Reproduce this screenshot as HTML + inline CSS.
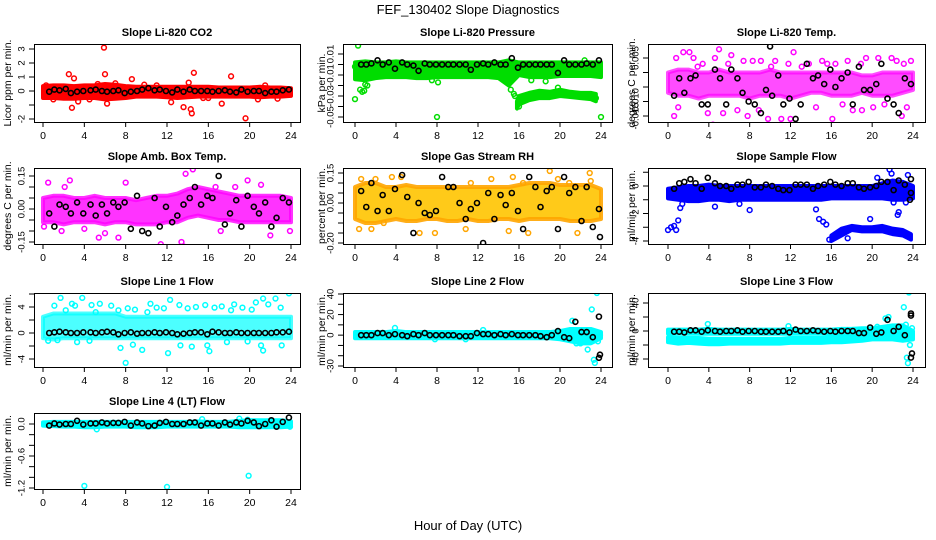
<!DOCTYPE html>
<html><head><meta charset="utf-8">
<style>
html,body{margin:0;padding:0;background:#fff;}
svg{display:block;font-family:"Liberation Sans",Arial,sans-serif;}
</style></head>
<body>
<svg id="chart" width="936" height="540" viewBox="0 0 936 540" xmlns="http://www.w3.org/2000/svg">
<rect x="0" y="0" width="936" height="540" fill="#fff"/>
<text x="468" y="14" font-size="13" text-anchor="middle">FEF_130402  Slope Diagnostics</text>
<text x="468" y="530" font-size="13" text-anchor="middle">Hour of Day (UTC)</text>
<g id="panels"></g>
</svg>
<script>
// shared data
const xTicks = [0,4,8,12,16,20,24];
const bandHours = [0,1,2,3,4,5,6,7,8,9,10,11,12,13,14,15,16,17,18,19,20,21,22,23,24];
const blackT = [0.6,1.1,1.6,2.2,2.7,3.3,3.9,4.6,5.1,5.7,6.2,6.8,7.3,7.9,8.5,9.1,9.6,10.2,10.8,11.3,11.9,12.5,13.0,13.6,14.2,14.7,15.3,15.9,16.4,17.0,17.6,18.1,18.7,19.2,19.8,20.4,20.9,21.5,22.1,22.6,23.2,23.8];

// Panel 1: CO2
const co2Hi = [0.35,0.4,0.4,0.35,0.4,0.4,0.5,0.45,0.35,0.3,0.3,0.3,0.3,0.3,0.3,0.3,0.3,0.25,0.25,0.25,0.25,0.3,0.25,0.25,0.2];
const co2Lo = [-0.5,-0.5,-0.55,-0.55,-0.5,-0.5,-0.6,-0.55,-0.5,-0.4,-0.4,-0.4,-0.45,-0.5,-0.45,-0.4,-0.4,-0.4,-0.4,-0.4,-0.4,-0.45,-0.4,-0.4,-0.35];
const co2OutH = [5.9,2.5,3.0,6.0,8.6,14.6,18.2,14.1,2.8,6.2,13.6,14.3,14.4,17.3,19.6,12.4,0.3,21.5,11.0,4.5,3.4,7.0,9.8,16.0,20.8,1.0,22.7,5.3,15.5];
const co2OutV = [3.1,1.2,0.9,1.2,0.85,1.3,1.05,0.6,-1.2,-0.9,-1.15,-1.3,-1.6,-0.9,-1.95,-0.8,0.4,0.4,0.4,-0.6,-0.75,0.55,0.45,-0.5,-0.6,-0.6,-0.55,0.5,-0.5];
const co2Black = [-0.05,0.1,0.05,0.15,-0.15,-0.05,0,0.05,0.1,0,-0.05,0,0.05,-0.15,-0.05,0,0.1,0.2,0.05,0.1,0,-0.1,0.1,-0.05,0.1,0,0,0,-0.05,0,0.05,-0.05,-0.1,0.1,-0.05,0,0,-0.15,-0.05,-0.05,0.05,0.1];
const co2Ticks = [-2,-1,0,1,2,3];
const co2Labels = ["-2","","0","1","2","3"];

// Panel 2: Pressure
const presHi = [0.002,0.003,0.002,0.002,0.003,0.002,0.002,0.002,0.002,0.002,0.002,0.002,0.002,0.002,0.002,0.004,0.002,0.002,0.002,0.002,0.002,0.002,0.002,0.002,0.002];
const presLo = [-0.014,-0.015,-0.013,-0.012,-0.012,-0.012,-0.013,-0.013,-0.012,-0.012,-0.012,-0.012,-0.012,-0.012,-0.013,-0.02,-0.01,-0.012,-0.012,-0.012,-0.011,-0.011,-0.011,-0.011,-0.012];
const presBH = [15.8,16,17,18,19,20,21,22,23,23.5];
const presBHi = [-0.035,-0.03,-0.027,-0.025,-0.026,-0.024,-0.026,-0.027,-0.027,-0.028];
const presBLo = [-0.042,-0.038,-0.034,-0.032,-0.032,-0.030,-0.031,-0.032,-0.033,-0.035];
const presOutH = [0.3,0,0,0.5,0.7,1.0,8,8.1,16,15.2,15.5,22.4,24,23.5,2,19.8,0.9,1.2,7.5,17.2,18.6,15.6];
const presOutV = [0.018,-0.033,-0.002,-0.024,-0.026,-0.019,-0.05,-0.017,-0.04,-0.024,-0.028,0.004,-0.05,-0.032,0.001,-0.022,-0.025,-0.02,-0.015,-0.015,-0.016,-0.03];
const presBlack = [0,0,0.001,0.004,0,0.002,-0.004,0.002,0,-0.001,-0.006,0.001,0,0,0,0,0,0,0,-0.005,0,0.001,0,0.002,0,0,0.006,-0.003,0,0,0,0,0,0,-0.008,0.004,0,0,0,0.001,0,0.004];
const presTicks = [0.01,0,-0.01,-0.02,-0.03,-0.04,-0.05];
const presLabels = ["0.01","","-0.01","","-0.03","","-0.05"];

// Panel 3: Li-820 Temp
const tempHi = [0.000,0.001,0.001,0.000,0.000,0.001,0.000,0.000,0.000,0.000,0.001,0.000,0.000,0.000,0.000,0.000,0.000,0.000,0.000,-0.001,-0.001,0.000,0.000,0.000,0.000];
const tempLo = [-0.007,-0.008,-0.008,-0.009,-0.008,-0.008,-0.008,-0.008,-0.009,-0.008,-0.008,-0.008,-0.009,-0.008,-0.007,-0.007,-0.008,-0.008,-0.008,-0.007,-0.008,-0.008,-0.008,-0.007,-0.006];
const tempOutH = [0.8,1.5,2.1,2.5,3.4,4.6,5.0,6.2,7.4,8.3,9.1,10.5,11.8,12.3,13.8,15.1,16.4,17.6,18.9,19.4,20.6,21.9,22.4,23.1,23.8,1.0,3.9,6.8,9.8,12.0,16.1,18.1,22.9,0.6,5.4,8.9,14.5,19.0,20.1,11.1,4.4,7.8,2.9,5.9,10.1,13.1,15.6,17.1,21.2,23.4];
const tempOutV = [0.005,0.007,0.007,0.005,0.003,0.005,0.008,0.006,0.004,0.004,0.004,0.004,0.003,0.007,0.003,0.004,0.003,0.004,0.003,0.005,0.005,0.005,0.004,0.003,0.004,-0.012,-0.014,-0.013,-0.016,-0.016,-0.016,-0.013,-0.015,-0.015,-0.014,-0.013,-0.012,-0.013,-0.012,-0.016,-0.018,-0.015,0.002,0.003,0.002,0.002,0.003,-0.011,-0.011,-0.012];
const tempBlack = [-0.008,-0.002,-0.007,-0.002,-0.001,-0.011,-0.011,0.001,-0.002,-0.011,0.001,-0.002,-0.007,-0.010,-0.011,-0.014,-0.006,-0.008,-0.001,-0.011,-0.009,-0.016,-0.011,0.003,-0.002,-0.001,-0.004,0.001,-0.005,-0.002,0.000,-0.011,0.002,-0.006,-0.006,-0.004,0.003,-0.009,-0.011,-0.014,-0.002,-0.004];
const tempTicks = [0.005,0,-0.005,-0.01,-0.015];
const tempLabels = ["0.005","","","-0.010","-0.015"];

// Panel 4: Amb Box Temp
const ambHi = [0.05,0.06,0.06,0.05,0.05,0.06,0.05,0.05,0.05,0.04,0.05,0.06,0.06,0.07,0.09,0.10,0.09,0.08,0.07,0.06,0.06,0.06,0.06,0.06,0.05];
const ambLo = [-0.06,-0.06,-0.07,-0.06,-0.06,-0.06,-0.07,-0.06,-0.06,-0.07,-0.07,-0.07,-0.06,-0.06,-0.04,-0.03,-0.04,-0.05,-0.05,-0.06,-0.06,-0.06,-0.06,-0.06,-0.06];
const ambOutH = [0.1,0.5,2.6,1.8,5.4,7.3,10.2,11.4,12.4,13.4,13.6,13.8,14.5,16.7,20.9,19.8,17.2,22.0,23.9,8.0,4.0,18.6,21.1,2.1,6.0];
const ambOutV = [-0.08,0.12,0.13,-0.1,-0.13,-0.13,-0.19,-0.16,-0.2,-0.15,-0.17,0.16,0.18,0.1,0.24,0.13,-0.1,-0.12,-0.1,0.12,-0.09,0.1,0.11,0.1,-0.11];
const ambBlack = [-0.02,-0.08,0.02,0.01,-0.02,0.03,-0.02,0.02,-0.03,0.02,-0.02,0.03,0.01,0.03,-0.09,0.06,-0.10,-0.11,0.05,-0.08,0.01,-0.06,-0.03,0.02,0.05,0.1,0.02,0.06,0.05,0.15,-0.07,-0.02,0.04,-0.08,0.06,0.01,-0.02,0.03,-0.08,-0.04,0.05,0.03];
const ambTicks = [0.15,0.1,0.05,0,-0.05,-0.1,-0.15];
const ambLabels = ["0.15","","","0.00","","","-0.15"];

// Panel 5: Gas Stream RH
const rhHi = [0.08,0.1,0.1,0.08,0.08,0.09,0.08,0.08,0.08,0.08,0.08,0.08,0.08,0.08,0.08,0.08,0.09,0.1,0.1,0.1,0.09,0.09,0.09,0.09,0.07];
const rhLo = [-0.08,-0.1,-0.1,-0.09,-0.08,-0.09,-0.09,-0.08,-0.08,-0.09,-0.09,-0.08,-0.09,-0.09,-0.08,-0.08,-0.09,-0.08,-0.08,-0.08,-0.08,-0.09,-0.09,-0.09,-0.08];
const rhOutH = [0.4,0.6,1.6,2.0,3.6,4.5,5.7,6.3,10.8,11.3,13.3,15.0,15.4,16.4,16.9,19.0,20.9,21.7,22.0,22.9,23.0,2.8,7.8,19.8];
const rhOutV = [-0.13,0.12,-0.13,0.12,0.13,0.13,-0.25,-0.15,-0.13,0.1,0.12,-0.14,0.13,0.1,-0.15,0.16,0.1,-0.15,-0.23,0.15,0.11,-0.1,-0.15,0.12];
const rhBlack = [0.06,-0.02,0.10,-0.04,0.04,-0.04,0.07,0.14,0.03,-0.15,0.0,-0.05,-0.06,-0.04,0.13,0.08,0.08,0.0,-0.08,-0.03,0.0,-0.2,0.05,-0.08,0.04,-0.01,0.05,-0.04,-0.13,0.13,0.08,-0.02,0.06,0.08,-0.13,0.13,0.05,0.08,-0.09,0.08,-0.12,-0.03];
const rhTicks = [0.15,0.1,0.05,0,-0.05,-0.1,-0.15,-0.2];
const rhLabels = ["0.15","","","0.00","","","","-0.20"];

// Panel 6: Sample Flow
const sfHi = [-0.2,-0.1,0,0,0.1,0,0,0,0,0,0,0,0,0,0,0,0,0,0,0,0,0.2,0.4,0.3,0];
const sfLo = [-0.9,-1.0,-1.1,-1.1,-1.0,-1.0,-1.1,-1.0,-1.0,-1.0,-1.0,-1.0,-1.0,-1.0,-1.0,-1.0,-0.9,-0.9,-0.9,-0.9,-0.9,-0.9,-1.0,-1.0,-0.9];
const sfBH = [16,17,18,19,20,21,22,23,23.8];
const sfBHi = [-3.6,-3.1,-2.9,-3.0,-3.0,-2.9,-3.1,-3.2,-3.5];
const sfBLo = [-4.0,-3.6,-3.2,-3.3,-3.3,-3.3,-3.5,-3.6,-3.9];
const sfOutH = [0,0.3,0.6,0.8,1.0,1.2,1.4,8,14.5,14.8,15.2,15.5,21.7,21.9,22.1,22.5,22.6,20.5,17.6,19.8,23.3,23.5,4.6,7.0,15.8];
const sfOutV = [-3.2,-3.0,-2.9,-3.2,-2.5,-1.6,-1.3,-1.75,-1.7,-2.4,-2.6,-2.8,1.2,0.9,-1.2,-2.1,-1.9,0.6,-3.8,-2.4,-1.2,0.8,-1.5,-1.3,-3.9];
const sfBlack = [-0.2,0.2,0.3,0.5,0.2,-0.2,0.6,0.2,0,0,-0.2,0.1,0.1,0.3,-0.1,-0.1,0.1,0,-0.2,-0.3,-0.3,0.1,0.1,0.1,-0.2,0,0.1,0.3,0.1,0,0.2,0.2,-0.1,-0.2,-0.1,0,0.3,0.3,-0.3,0.4,0.1,0.5];
const sfTicks = [1,0,-1,-2,-3,-4];
const sfLabels = ["","0","","-2","","-4"];

// Panel 7: Line 1 Flow
const l1Hi = [2.5,3,3,3,3,3,3,3,2.5,2.5,2.5,2.5,2.5,2.5,2.5,2.5,2.5,2.5,2.5,2.5,2.5,2.5,2.5,2.5,2.5];
const l1Lo = [-0.8,-1,-0.8,-0.8,-0.8,-0.8,-0.8,-0.8,-0.8,-0.8,-0.8,-0.8,-0.8,-0.8,-0.8,-0.8,-0.8,-0.8,-0.8,-0.8,-0.8,-0.8,-0.8,-0.8,-0.8];
const l1OutH = [1.1,1.7,2.8,3.1,3.8,4.7,5.1,5.5,6.6,7.3,8.2,8.9,10.4,11.0,11.7,12.3,13.2,14.0,14.8,15.7,16.6,17.3,18.5,19.3,20.6,21.3,21.8,22.5,23.0,23.8,0.5,1.4,3.3,4.5,7.5,8.0,8.7,9.6,12.1,13.3,14.4,15.9,16.1,17.8,19.8,21.1,21.3,23.1,2.2,10.1,18.2,20.2];
const l1OutV = [4.2,5.4,4.5,4.2,5.4,4.3,3.2,4.5,4.2,3.5,3.8,3.6,4.5,3.9,3.8,5.1,4.3,3.8,4.0,4.3,3.9,4.1,4.4,3.9,4.7,5.3,4.4,5.3,3.9,6.1,-1.2,-1.1,-1.4,-1.2,-2.3,-4.6,-1.8,-2.6,-3.1,-1.9,-2.1,-1.9,-2.8,-1.4,-1.3,-1.9,-2.7,-1.9,3.5,3.2,3.5,3.6];
const l1Black = [0,0.1,0.2,0.1,0,0,0.1,0.1,0,0.1,0.2,0.1,-0.2,0,0.1,-0.1,0,0,0.1,0,0.1,0,-0.2,-0.1,0,0.1,0.1,-0.2,0.2,0.1,0,0,0.1,0,0,0,0,0,0,0.1,0.1,0.2];
const l1Ticks = [6,4,2,0,-2,-4];
const l1Labels = ["","4","","0","","-4"];

// Panel 8: Line 2 Flow
const l2Hi = [3,3,3,3,4,3,3,3,3,3,3,3,3,3,3,3,3,3,3,3,4,6,6,6,3];
const l2Lo = [-3,-3,-3,-3,-3,-3,-3,-3,-3,-3,-3,-3,-3,-3,-3,-3,-3,-3,-3,-3,-4,-6,-8,-8,-3];
const l2OutH = [3.9,7.8,10.8,12.5,21.2,21.6,22.7,23.1,23.3,23.4,23.6,23.7,23.9,22.0];
const l2OutV = [7,-4,-4,5,14,-8,-14,25,-24,-27,41,-6,0,-8];
const l2Black = [0,0,0,2,2,0,1,0,-1,1,0,2,0,0,0,0,0,-1,-1,-1,2,1,1,0,1,0,1,0,0,0,0,-1,-2,0,4,-2,-3,13,3,3,-2,18];
const l2Ticks = [40,30,20,10,0,-10,-20,-30];
const l2Labels = ["40","","20","","0","","","-30"];

// Panel 9: Line 3 Flow
const l3Hi = [2,2,2,2,3,2,2,2,2,2,2,2,3,2,2,2,2,3,3,4,4,6,8,8,0];
const l3Lo = [-4,-4,-4,-4,-4,-4,-4,-4,-4,-4,-4,-4,-4,-4,-4,-4,-4,-5,-5,-6,-6,-8,-10,-12,-8];
const l3BHi = [-9,-10,-10,-10,-11,-11,-11,-11,-11,-11,-11,-11,-10,-10,-10,-10,-9,-9,-8,-6,-6,-6,-6,-6,-6];
const l3BLo = [-16,-18,-17,-18,-19,-19,-18,-18,-18,-18,-18,-18,-17,-17,-17,-17,-16,-16,-15,-14,-12,-12,-12,-14,-12];
const l3OutH = [3.9,11.8,21.3,21.6,23.1,23.4,23.6,23.3,23.5,23.9,23.7,20.5];
const l3OutV = [10,7,18,20,34,-38,55,9,-46,4,-20,6];
const l3Black = [-1,-1,-2,1,1,-1,1,0,-1,0,0,1,-1,0,0,-1,-1,-1,-1,0,-2,2,0,0,1,0,-1,0,-1,0,0,0,-3,-3,5,-4,-2,16,0,6,-6,22];
const l3Ticks = [40,20,0,-20,-40];
const l3Labels = ["40","","0","","-40"];

// Panel 10: Line 4 (LT) Flow
const l4Hi = [0.03,0.04,0.04,0.04,0.04,0.04,0.04,0.04,0.04,0.04,0.04,0.04,0.04,0.04,0.04,0.05,0.04,0.04,0.04,0.06,0.07,0.07,0.07,0.07,0.05];
const l4Lo = [-0.03,-0.04,-0.05,-0.05,-0.06,-0.06,-0.05,-0.05,-0.05,-0.06,-0.06,-0.06,-0.05,-0.05,-0.05,-0.05,-0.05,-0.05,-0.05,-0.06,-0.06,-0.06,-0.06,-0.06,-0.05];
const l4OutH = [4.0,12.0,19.9,5.2,15.4,19.0,19.8,23.9];
const l4OutV = [-1.16,-1.18,-0.97,-0.1,0.09,0.1,0.08,-0.05];
const l4Black = [-0.03,0.01,-0.01,0,0,0.06,-0.01,0.01,0.01,0.03,0.01,0.02,0.02,0.04,-0.03,0.03,0.01,-0.04,-0.03,0.02,0.04,0,0,0,0.03,0.03,-0.03,0.01,0.01,-0.03,0.03,-0.01,0.03,0.01,0.06,0.03,-0.04,0,0.07,-0.05,0.04,0.12];
const l4Ticks = [0,-0.2,-0.4,-0.6,-0.8,-1.0,-1.2];
const l4Labels = ["0.0","","","-0.6","","","-1.2"];

const NS = "http://www.w3.org/2000/svg";
const root = document.getElementById('panels');
function mk(tag, attrs, parent){const e=document.createElementNS(NS,tag);for(const k in attrs)e.setAttribute(k,attrs[k]);(parent||root).appendChild(e);return e;}

const cols = [{l:34,r:300,x0:43,x24:291,yt:8},{l:343,r:612,x0:355,x24:601,yt:322},{l:648,r:925,x0:668,x24:913,yt:632}];
const rows = [{t:44,b:122},{t:168,b:244},{t:293,b:367},{t:413,b:489}];

const panels = [
 {key:'co2',title:'Slope Li-820 CO2',ylab:'Licor ppm per min.',c:0,r:0,col:'#ff0000',op:1,ref:[3,49,-2,119],ticks:co2Ticks,labels:co2Labels,bands:[[bandHours,co2Hi,co2Lo]],oh:co2OutH,ov:co2OutV,blk:co2Black,bx:[],by:[]},
 {key:'pressure',title:'Slope Li-820 Pressure',ylab:'kPa per min.',c:1,r:0,col:'#00dd00',op:1,ref:[0.01,54,-0.05,117],ticks:presTicks,labels:presLabels,bands:[[bandHours,presHi,presLo],[presBH,presBHi,presBLo]],oh:presOutH,ov:presOutV,blk:presBlack,bx:[],by:[]},
 {key:'temp',title:'Slope Li-820 Temp.',ylab:'degrees C per min.',c:2,r:0,col:'#ff00ff',op:0.7,ref:[0.005,58,-0.015,116],ticks:tempTicks,labels:tempLabels,bands:[[bandHours,tempHi,tempLo]],oh:tempOutH,ov:tempOutV,blk:tempBlack,bx:[10],by:[0.009]},
 {key:'ambbox',title:'Slope Amb. Box Temp.',ylab:'degrees C per min.',c:0,r:1,col:'#ff00ff',op:0.8,ref:[0.15,176,-0.15,242],ticks:ambTicks,labels:ambLabels,bands:[[bandHours,ambHi,ambLo]],oh:ambOutH,ov:ambOutV,blk:ambBlack,bx:[],by:[]},
 {key:'rh',title:'Slope Gas Stream RH',ylab:'percent per min.',c:1,r:1,col:'#ffa500',op:0.9,ref:[0.15,173,-0.2,243],ticks:rhTicks,labels:rhLabels,bands:[[bandHours,rhHi,rhLo]],oh:rhOutH,ov:rhOutV,blk:rhBlack,bx:[23.9],by:[-0.17]},
 {key:'sampleflow',title:'Slope Sample Flow',ylab:'ml/min per min.',c:2,r:1,col:'#0000ff',op:1,ref:[0,186,-4,241],ticks:sfTicks,labels:sfLabels,bands:[[bandHours,sfHi,sfLo],[sfBH,sfBHi,sfBLo]],oh:sfOutH,ov:sfOutV,blk:sfBlack,bx:[23.8,23.7],by:[-0.5,-1.0]},
 {key:'line1',title:'Slope Line 1 Flow',ylab:'ml/min per min.',c:0,r:2,col:'#00ffff',op:0.7,ref:[4,307,-4,359],ticks:l1Ticks,labels:l1Labels,bands:[[bandHours,l1Hi,l1Lo]],oh:l1OutH,ov:l1OutV,blk:l1Black,bx:[],by:[]},
 {key:'line2',title:'Slope Line 2 Flow',ylab:'ml/min per min.',c:1,r:2,col:'#00ffff',op:1,ref:[40,294,-30,366],ticks:l2Ticks,labels:l2Labels,bands:[[bandHours,l2Hi,l2Lo]],oh:l2OutH,ov:l2OutV,blk:l2Black,bx:[23.8,23.9],by:[-22,-19]},
 {key:'line3',title:'Slope Line 3 Flow',ylab:'ml/min per min.',c:2,r:2,col:'#00ffff',op:1,ref:[40,303,-40,359],ticks:l3Ticks,labels:l3Labels,bands:[[bandHours,l3Hi,l3Lo],[bandHours,l3BHi,l3BLo]],oh:l3OutH,ov:l3OutV,blk:l3Black,bx:[23.8,23.9,23.8],by:[25,-32,-38]},
 {key:'line4',title:'Slope Line 4 (LT) Flow',ylab:'ml/min per min.',c:0,r:3,col:'#00ffff',op:1,ref:[0,424,-1.2,488],ticks:l4Ticks,labels:l4Labels,bands:[[bandHours,l4Hi,l4Lo]],oh:l4OutH,ov:l4OutV,blk:l4Black,bx:[],by:[]}
];

panels.forEach(p=>{
  const C=cols[p.c], R=rows[p.r];
  const xs = h => C.x0 + (C.x24-C.x0)*h/24;
  const ys = v => p.ref[1] + (p.ref[3]-p.ref[1])*(v-p.ref[0])/(p.ref[2]-p.ref[0]);
  const g = mk('g',{});
  
  
  const clipId='clip-'+p.key;
  const cp=mk('clipPath',{id:clipId},g);
  mk('rect',{x:C.l,y:R.t,width:C.r-C.l,height:R.b-R.t},cp);
  const t=mk('text',{x:(C.l+C.r)/2,y:R.t-8,'font-size':11,'font-weight':'bold','text-anchor':'middle'},g);
  t.textContent=p.title;
  
  
  const yl=mk('text',{x:C.yt,y:(R.t+R.b)/2,'font-size':10.5,'text-anchor':'middle',transform:`rotate(-90 ${C.yt} ${(R.t+R.b)/2})`,'dominant-baseline':'central'},g);
  yl.textContent=p.ylab;
  
  
  const plot=mk('g',{'clip-path':`url(#${clipId})`},g);
  p.bands.forEach(b=>{
    const [H,HI,LO]=b;
    let pts=H.map((h,i)=>xs(h)+','+ys(HI[i]));
    for(let i=H.length-1;i>=0;i--)pts.push(xs(H[i])+','+ys(LO[i]));
    const poly=mk('polygon',{points:pts.join(' '),fill:p.col,'fill-opacity':p.op,stroke:p.col,'stroke-opacity':p.op,'stroke-width':4,'stroke-linejoin':'round'},plot);
    
    
    if(p.key==='rh'){ poly.setAttribute('fill','#ffc400'); }
  });
  p.oh.forEach((h,i)=>{
    const c=mk('circle',{cx:xs(h),cy:ys(p.ov[i]),r:2.4,fill:'none',stroke:p.col,'stroke-width':1.5},plot);
    
    
  });
  blackT.forEach((h,i)=>{
    const c=mk('circle',{cx:xs(h),cy:ys(p.blk[i]),r:2.5,fill:'none',stroke:'#000','stroke-width':1.6},plot);
    
    
  });
  p.bx.forEach((h,i)=>{
    const c=mk('circle',{cx:xs(h),cy:ys(p.by[i]),r:2.5,fill:'none',stroke:'#000','stroke-width':1.6},plot);
    
    
  });
  const box=mk('rect',{x:C.l+0.5,y:R.t+0.5,width:C.r-C.l,height:R.b-R.t,fill:'none',stroke:'#000','stroke-width':1},g);
  
  
  xTicks.forEach(v=>{
    const x=xs(v);
    mk('line',{x1:x,x2:x,y1:R.b,y2:R.b+5,stroke:'#000'},g);
    const tl=mk('text',{x:x,y:R.b+17,'font-size':10.5,'text-anchor':'middle'},g);
    tl.textContent=String(v);
    
    
  });
  p.ticks.forEach((v,i)=>{
    const y=ys(v);
    mk('line',{x1:C.l-5,x2:C.l,y1:y,y2:y,stroke:'#000'},g);
    if(p.labels[i]){
      const lx=C.l-12;
      const tl=mk('text',{x:lx,y:y,'font-size':9.5,'text-anchor':'middle','dominant-baseline':'central',transform:`rotate(-90 ${lx} ${y})`},g);
      tl.textContent=p.labels[i];
      
      
    }
  });
});
</script>
</body></html>
